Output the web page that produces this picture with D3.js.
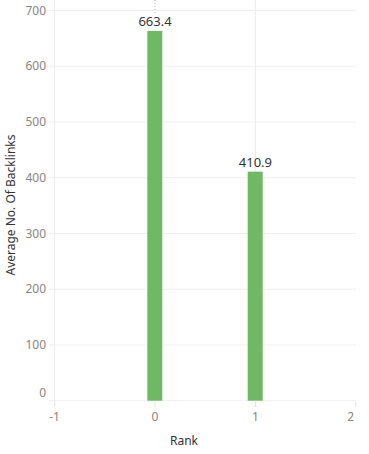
<!DOCTYPE html>
<html><head><meta charset="utf-8">
<script src="https://cdn.jsdelivr.net/npm/d3@7"></script>
<style>body{margin:0;background:#fff}svg text{font-family:"Noto Sans",sans-serif}</style>
</head><body><svg id="c" width="369" height="454"></svg>
<script>
const ranks = [0, 1];
const backlinks = [663.4, 410.9];
const labels = ["663.4", "410.9"];
const yTicks = [0, 100, 200, 300, 400, 500, 600, 700];
const xTicks = [-1, 0, 1, 2];

const svg = d3.select("#c");
const x = d3.scaleLinear().domain([-1, 2]).range([54.6, 355.8]);
const y = d3.scaleLinear().domain([0, 700]).range([400.7, 10.5]);

// horizontal gridlines
svg.append("g").selectAll("line").data(yTicks).join("line")
  .attr("x1", 49).attr("x2", 356).attr("y1", d => y(d)).attr("y2", d => y(d))
  .attr("stroke", "#efefef").attr("stroke-width", 1);
// vertical gridlines
svg.append("line").attr("x1", x(-1)).attr("x2", x(-1)).attr("y1", 0).attr("y2", 406)
  .attr("stroke", "#ececec");
svg.append("line").attr("x1", x(1)).attr("x2", x(1)).attr("y1", 0).attr("y2", 406)
  .attr("stroke", "#ececec");
svg.append("line").attr("x1", x(0)).attr("x2", x(0)).attr("y1", 0).attr("y2", 13)
  .attr("stroke", "#b5b5b5").attr("stroke-dasharray", "1,2");
// x ticks
svg.append("g").selectAll("line").data(xTicks).join("line")
  .attr("x1", d => x(d)).attr("x2", d => x(d)).attr("y1", 402).attr("y2", 407)
  .attr("stroke", "#e4e4e4");

// y tick labels
svg.append("g").selectAll("text").data(yTicks).join("text")
  .attr("x", 46).attr("y", d => y(d) - (d === 0 ? 8 : 0)).attr("dy", "0.35em")
  .attr("text-anchor", "end").attr("font-size", 12).attr("fill", "#8a8580")
  .text(d => d);
// x tick labels
svg.append("g").selectAll("text").data(xTicks).join("text")
  .attr("x", d => x(d) + (d === 2 ? -5 : 0)).attr("y", 421)
  .attr("text-anchor", "middle").attr("font-size", 12).attr("fill", "#8a8580")
  .text(d => d);

// bars
const bw = 15;
svg.append("g").selectAll("rect").data(ranks).join("rect")
  .attr("x", (d) => x(d) - bw / 2 - 0.2).attr("width", bw)
  .attr("y", (d, i) => y(backlinks[i])).attr("height", (d, i) => y(0) - y(backlinks[i]))
  .attr("fill", "#6fb864");
// value labels
svg.append("g").selectAll("text").data(ranks).join("text")
  .attr("x", d => x(d)).attr("y", (d, i) => y(backlinks[i]) - 5)
  .attr("text-anchor", "middle").attr("font-size", 13).attr("fill", "#333")
  .text((d, i) => labels[i]);

// axis titles
svg.append("text").attr("x", 184).attr("y", 445).attr("text-anchor", "middle")
  .attr("font-size", 12).attr("fill", "#333").text("Rank");
svg.append("text").attr("transform", "translate(15,205) rotate(-90)")
  .attr("text-anchor", "middle").attr("font-size", 12).attr("fill", "#333")
  .text("Average No. Of Backlinks");
</script></body></html>
